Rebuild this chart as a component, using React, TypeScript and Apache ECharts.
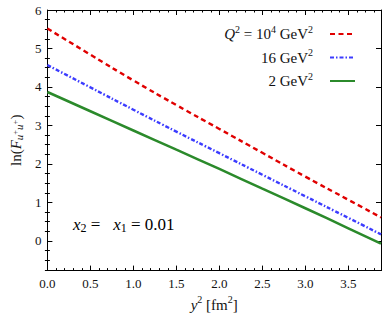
import React, { useEffect, useRef } from "react";
import * as echarts from "echarts";

const xValues = [0, 0.5, 1.0, 1.5, 2.0, 2.5, 3.0, 3.5, 3.88];
const redValues = [5.52, 4.84, 4.17, 3.53, 2.91, 2.29, 1.67, 1.07, 0.61];
const blueValues = [4.57, 3.99, 3.41, 2.84, 2.28, 1.72, 1.16, 0.6, 0.17];
const greenValues = [3.87, 3.37, 2.87, 2.37, 1.87, 1.36, 0.85, 0.33, -0.07];
const yMajorTicks = [0, 1, 2, 3, 4, 5, 6];
const yMinorTicks = [-0.75, -0.5, -0.25, 0.25, 0.5, 0.75, 1.25, 1.5, 1.75, 2.25, 2.5, 2.75, 3.25, 3.5, 3.75, 4.25, 4.5, 4.75, 5.25, 5.5, 5.75];
const seriesNames = ["Q2e4", "Q16", "Q2"];
const legendLabels: Record<string, string> = {
  Q2e4: "{i|Q}{sup|2}{n| = 10}{sup|4}{n| GeV}{sup|2}",
  Q16: "{n|16 GeV}{sup|2}",
  Q2: "{n|2 GeV}{sup|2}",
};

const FONT = "Liberation Serif";
const Y_MIN = -0.77;
const Y_MAX = 6;

export default function App() {
  const ref = useRef<HTMLDivElement>(null);
  useEffect(() => {
    if (!ref.current) return;
    const chart = echarts.init(ref.current, undefined, { renderer: "svg" });
    const zip = (ys: number[]) => xValues.map((x, i) => [x, ys[i]]);
    const axisCommon = {
      axisLine: { show: true, onZero: false, lineStyle: { color: "#000", width: 1 } },
      axisTick: { show: true, inside: true, length: 5, lineStyle: { color: "#000" } },
      minorTick: { show: true, length: 2.5, lineStyle: { color: "#000" } },
      splitLine: { show: false },
    };
    const textStyleBase = { fontFamily: FONT, color: "#111" };
    const legendRich = {
      n: { fontFamily: FONT, fontSize: 15, color: "#111" },
      i: { fontFamily: FONT, fontSize: 15, fontStyle: "italic", color: "#111" },
      sup: { fontFamily: FONT, fontSize: 10, color: "#111", padding: [0, 0, 10, 0] },
    };
    const xNameRich = {
      n: { fontFamily: FONT, fontSize: 15, color: "#111" },
      i: { fontFamily: FONT, fontSize: 15, fontStyle: "italic", color: "#111" },
      sup: { fontFamily: FONT, fontSize: 10, color: "#111", padding: [0, 0, 10, 0] },
    };
    const yBase = (position: string, minor: boolean, extra: any = {}) => ({
      type: "value",
      position,
      min: Y_MIN,
      max: Y_MAX,
      axisLine: minor ? { show: false } : axisCommon.axisLine,
      axisTick: {
        show: true,
        inside: true,
        length: minor ? 2.5 : 5,
        lineStyle: { color: "#000" },
        customValues: minor ? yMinorTicks : yMajorTicks,
      },
      splitLine: { show: false },
      axisLabel: { show: false },
      ...extra,
    });
    chart.setOption({
      animation: false,
      grid: { left: 36, right: 5, top: 10, bottom: 42 },
      legend: {
        data: seriesNames,
        orient: "vertical",
        right: 25,
        top: 19,
        align: "right",
        itemWidth: 25,
        itemHeight: 14,
        itemGap: 6,
        itemStyle: { opacity: 0 },
        formatter: (name: string) => legendLabels[name],
        textStyle: { ...textStyleBase, fontSize: 15, padding: [0, 12, 0, 0], rich: legendRich },
      },
      xAxis: [
        {
          type: "value",
          min: 0,
          max: 3.88,
          interval: 0.5,
          ...axisCommon,
          minorTick: { ...axisCommon.minorTick, splitNumber: 5 },
          axisLabel: {
            ...textStyleBase,
            fontSize: 13,
            margin: 6,
            showMaxLabel: false,
            formatter: (v: number) => v.toFixed(1),
          },
          name: "{i|y}{sup|2}{n| [fm}{sup|2}{n|]}",
          nameLocation: "middle",
          nameGap: 21,
          nameTextStyle: { ...textStyleBase, fontSize: 15, rich: xNameRich },
        },
        {
          type: "value",
          position: "top",
          min: 0,
          max: 3.88,
          interval: 0.5,
          ...axisCommon,
          minorTick: { ...axisCommon.minorTick, splitNumber: 5 },
          axisLabel: { show: false },
        },
      ],
      yAxis: [
        yBase("left", false, {
          axisLabel: {
            show: true,
            ...textStyleBase,
            fontSize: 13,
            margin: 6,
            customValues: yMajorTicks,
          },
          name: "{n|ln(}{i|F}{sub|u}{subsup|+}{sub|u}{subsup|+}{n|)}",
          nameLocation: "middle",
          nameRotate: 90,
          nameGap: 13,
          nameTextStyle: {
            ...textStyleBase,
            fontSize: 15,
            rich: {
              n: { fontFamily: FONT, fontSize: 15, color: "#111" },
              i: { fontFamily: FONT, fontSize: 15, fontStyle: "italic", color: "#111" },
              sub: { fontFamily: FONT, fontSize: 11, fontStyle: "italic", color: "#111", padding: [6, 0, 0, 0] },
              subsup: { fontFamily: FONT, fontSize: 8.5, color: "#111", padding: [0, 0, 1, 0] },
            },
          },
        }),
        yBase("right", false),
        yBase("left", true),
        yBase("right", true),
      ],
      graphic: [
        {
          type: "text",
          left: 73,
          top: 216,
          style: {
            text: "{i|x}{sub|2}{n| =   }{i|x}{sub|1}{n| = 0.01}",
            rich: {
              n: { fontFamily: FONT, fontSize: 17, color: "#111" },
              i: { fontFamily: FONT, fontSize: 17, fontStyle: "italic", color: "#111" },
              sub: { fontFamily: FONT, fontSize: 12, color: "#111", padding: [7, 0, 0, 0] },
            },
          },
        },
      ],
      series: [
        {
          name: seriesNames[0],
          type: "line",
          data: zip(redValues),
          symbol: "none",
          smooth: true,
          lineStyle: { color: "#e00000", width: 2.4, type: [5, 3.5] },
          itemStyle: { color: "#e00000" },
        },
        {
          name: seriesNames[1],
          type: "line",
          data: zip(blueValues),
          symbol: "none",
          smooth: true,
          lineStyle: { color: "#3c3cff", width: 2.4, type: [4, 2, 1.5, 2] },
          itemStyle: { color: "#3c3cff" },
        },
        {
          name: seriesNames[2],
          type: "line",
          data: zip(greenValues),
          symbol: "none",
          smooth: true,
          lineStyle: { color: "#2b8a2b", width: 2.5, type: "solid" },
          itemStyle: { color: "#2b8a2b" },
        },
      ],
    });
    return () => chart.dispose();
  }, []);
  return <div ref={ref} style={{ width: 386, height: 317, position: "absolute", left: 0, top: 0, background: "#fff" }} />;
}
